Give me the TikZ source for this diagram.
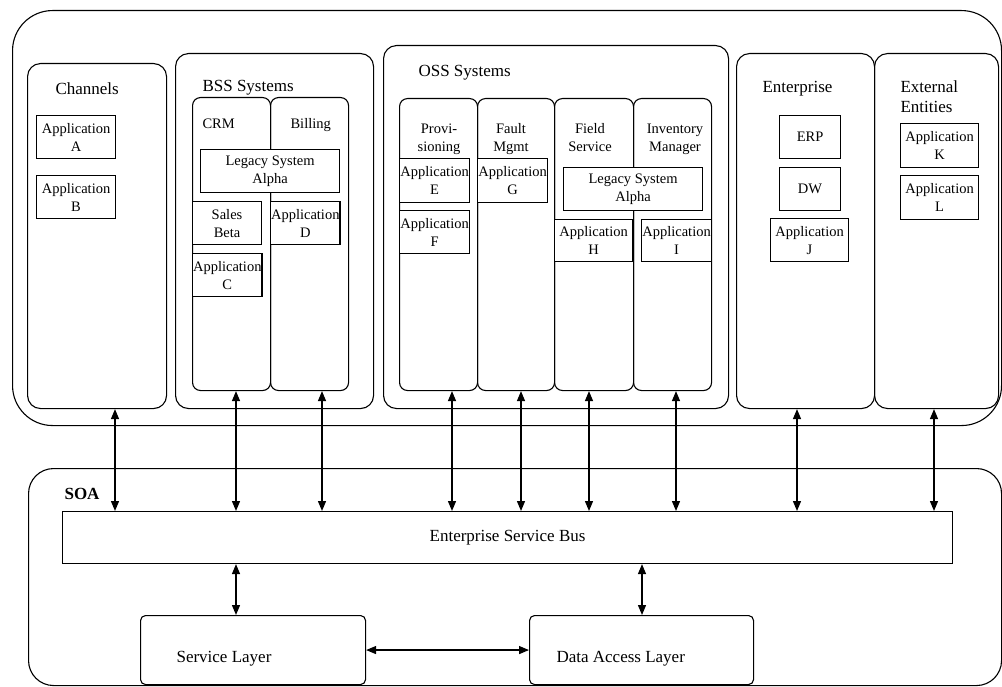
\documentclass[tikz,border=0pt]{standalone}
\usepackage{fontspec}
\setmainfont{Liberation Serif}
\usetikzlibrary{arrows.meta, positioning}

\newcommand{\grpfont}{\fontsize{17}{20}\selectfont}
\newcommand{\itemfont}{\fontsize{14.5}{18}\selectfont}

\begin{document}
\begin{tikzpicture}[x=1pt, y=-1pt, line width=1.1pt,
  groupbox/.style={draw, rounded corners=13pt, anchor=north west, inner sep=0pt},
  colbox/.style={draw, rounded corners=8pt, anchor=north west, inner sep=0pt},
  appbox/.style={draw, fill=white, anchor=north west, align=center, inner sep=0.5pt, font=\itemfont},
  grptitle/.style={anchor=base west, inner sep=0pt, font=\grpfont},
  coltitle/.style={anchor=north, inner sep=0pt, align=center, font=\itemfont},
  biarrow/.style={line width=1.3pt, {Triangle[length=10pt,width=8pt]}-{Triangle[length=10pt,width=8pt]}}]
\useasboundingbox (0,0) rectangle (1002,687);
% Systems landscape
\node[groupbox, rounded corners=40pt, minimum width=989pt, minimum height=415pt] (landscape) at (12,10) {};
% Channels
\node[groupbox, minimum width=139pt, minimum height=345pt] (channels) at (27,63) {};
\node[grptitle] (chantitle) at (55,95) {Channels};
\node[appbox, minimum width=79pt, minimum height=43pt] (appA) at (36,115) {Application\\A};
\node[appbox, minimum width=79pt, minimum height=43pt] (appB) at (36,175) {Application\\B};
% BSS
\node[groupbox, minimum width=198pt, minimum height=355pt] (bss) at (175,53) {};
\node[grptitle] (bsstitle) at (202,92) {BSS Systems};
\node[colbox, minimum width=78pt, minimum height=293pt] (crm) at (192,97) {};
\node[colbox, minimum width=78pt, minimum height=293pt] (billing) at (270,97) {};
\node[grptitle, font=\itemfont] (crmtitle) at (202,129) {CRM};
\node[grptitle, font=\itemfont] (billtitle) at (290,129) {Billing};
\node[appbox, minimum width=139pt, minimum height=43pt] (legacyA) at (200,149) {Legacy System\\Alpha};
\node[appbox, minimum width=69pt, minimum height=43pt] (sales) at (192,201) {Sales\\Beta};
\node[appbox, minimum width=69pt, minimum height=43pt] (appD) at (270,201) {Application\\D};
\node[appbox, minimum width=69pt, minimum height=43pt] (appC) at (192,253) {Application\\C};
% OSS
\node[groupbox, minimum width=345pt, minimum height=363pt] (oss) at (383,45) {};
\node[grptitle] (osstitle) at (418,77) {OSS Systems};
\node[colbox, minimum width=78pt, minimum height=292pt] (prov) at (399,98) {};
\node[colbox, minimum width=77pt, minimum height=292pt] (fault) at (477,98) {};
\node[colbox, minimum width=79pt, minimum height=292pt] (field) at (554,98) {};
\node[colbox, minimum width=78pt, minimum height=292pt] (inventory) at (633,98) {};
\node[coltitle] (provtitle) at (439,123) {Provi-\\sioning};
\node[coltitle] (faulttitle) at (511,123) {Fault\\Mgmt};
\node[coltitle] (fieldtitle) at (590,123) {Field\\Service};
\node[coltitle] (invtitle) at (675,123) {Inventory\\Manager};
\node[appbox, minimum width=70pt, minimum height=44pt] (appE) at (399,158) {Application\\E};
\node[appbox, minimum width=70pt, minimum height=43pt] (appF) at (399,210) {Application\\F};
\node[appbox, minimum width=70pt, minimum height=44pt] (appG) at (477,158) {Application\\G};
\node[appbox, minimum width=139pt, minimum height=43pt] (legacyB) at (563,167) {Legacy System\\Alpha};
\node[appbox, minimum width=78pt, minimum height=42pt] (appH) at (554,219) {Application\\H};
\node[appbox, minimum width=70pt, minimum height=42pt] (appI) at (641,219) {Application\\I};
% Enterprise
\node[groupbox, minimum width=138pt, minimum height=355pt] (enterprise) at (736,53) {};
\node[grptitle] (enttitle) at (762,93) {Enterprise};
\node[appbox, minimum width=61pt, minimum height=43pt] (erp) at (779,115) {ERP};
\node[appbox, minimum width=61pt, minimum height=43pt] (dw) at (779,167) {DW};
\node[appbox, minimum width=78pt, minimum height=43pt] (appJ) at (770,218) {Application\\J};
% External entities
\node[groupbox, minimum width=124pt, minimum height=355pt] (external) at (874,53) {};
\node[grptitle, anchor=north west, align=left] (exttitle) at (900,80) {External\\Entities};
\node[appbox, minimum width=78pt, minimum height=44pt] (appK) at (900,123) {Application\\K};
\node[appbox, minimum width=78pt, minimum height=44pt] (appL) at (900,175) {Application\\L};
% SOA
\node[groupbox, rounded corners=25pt, minimum width=973pt, minimum height=217pt] (soa) at (28,468) {};
\node[grptitle, font=\grpfont\bfseries] (soatitle) at (64,499) {SOA};
\node[draw, anchor=north west, minimum width=890pt, minimum height=52pt, font=\grpfont] (esb) at (62,511) {Enterprise Service Bus};
\node[draw, rounded corners=5pt, anchor=north west, minimum width=225pt, minimum height=69pt] (slayer) at (140,615) {};
\node[grptitle] (sltitle) at (176,662) {Service Layer};
\node[draw, rounded corners=5pt, anchor=north west, minimum width=224pt, minimum height=69pt] (dal) at (529,615) {};
\node[grptitle] (daltitle) at (556,662) {Data Access Layer};
% Links to the bus
\foreach \n/\x in {channels/115, crm/236, billing/322, prov/452, fault/521, field/589, inventory/676, enterprise/797, external/934}
  \draw[biarrow] (\n.south -| \x,0) -- (esb.north -| \x,0);
\draw[biarrow] (esb.south -| 236,0) -- (slayer.north -| 236,0);
\draw[biarrow] (esb.south -| 642,0) -- (dal.north -| 642,0);
\draw[biarrow] (slayer.east) -- (dal.west);
\end{tikzpicture}
\end{document}
